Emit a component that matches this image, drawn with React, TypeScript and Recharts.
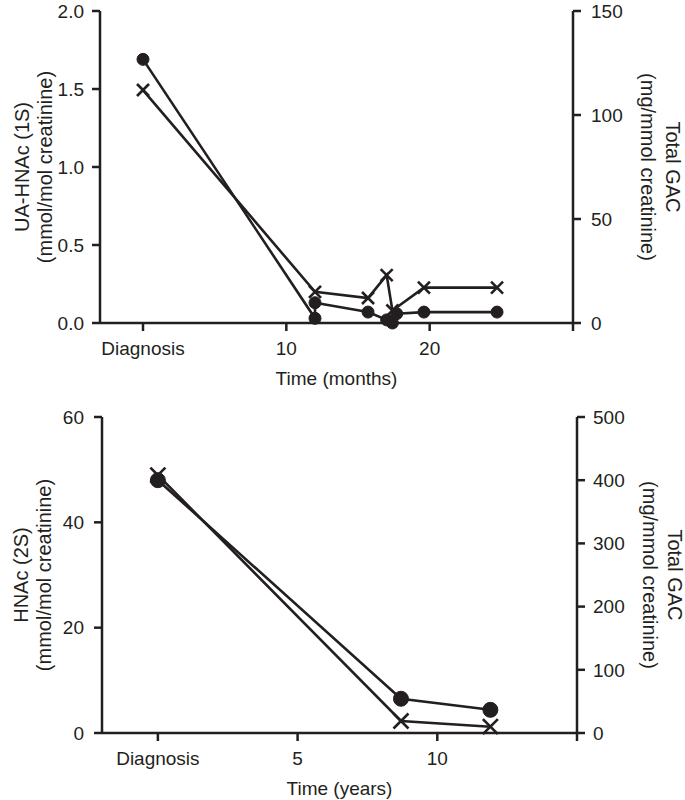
import { LineChart, Line, XAxis, YAxis } from 'recharts';

const INK = '#231f20';
const FONT = '"Liberation Sans", Arial, Helvetica, sans-serif';

// upper panel: months after diagnosis
const monthTicks = [0, 10, 20, 30];
const uaTicks = [0, 0.5, 1.0, 1.5, 2.0];
const gacTicksTop = [0, 50, 100, 150];
const uaMonths = [0, 12, 12, 15.7, 17.0, 17.4, 17.7, 19.6, 24.7];
const uaValues = [1.69, 0.03, 0.13, 0.07, 0.02, 0.0, 0.06, 0.07, 0.07];
const gacMonths = [0, 12, 15.7, 17.0, 17.4, 19.6, 24.7];
const gacTopValues = [112, 15, 12, 23, 6, 17, 17];

// lower panel: years after diagnosis
const yearTicks = [0, 5, 10, 15];
const hnacTicks = [0, 20, 40, 60];
const gacTicksBottom = [0, 100, 200, 300, 400, 500];
const hnacYears = [0, 8.7, 11.9];
const hnacValues = [48, 6.5, 4.4];
const gacYears = [0, 8.7, 11.9];
const gacBottomValues = [408, 19, 10];

const toRows = (xs: number[], ys: number[]) => xs.map((t, i) => ({ t, v: ys[i] }));

const uaData = toRows(uaMonths, uaValues);
const gacTopData = toRows(gacMonths, gacTopValues);
const hnacData = toRows(hnacYears, hnacValues);
const gacBottomData = toRows(gacYears, gacBottomValues);

const axisLine = { stroke: INK, strokeWidth: 2.5 };
const tickStyle = { fill: INK, fontSize: 19, fontFamily: FONT };

const Cross = ({ cx, cy, size }: any) => {
  if (cx == null || cy == null) return null;
  const s = size / 2;
  return (
    <g>
      <line x1={cx - s} y1={cy - s} x2={cx + s} y2={cy + s} stroke={INK} strokeWidth={2.6} />
      <line x1={cx - s} y1={cy + s} x2={cx + s} y2={cy - s} stroke={INK} strokeWidth={2.6} />
    </g>
  );
};

const YTitle = ({ viewBox, lines, xs, rotate }: any) => {
  if (!viewBox) return null;
  const cy = viewBox.y + viewBox.height / 2;
  return (
    <g>
      {lines.map((t: string, i: number) => (
        <text
          key={i}
          x={xs[i]}
          y={cy}
          transform={`rotate(${rotate} ${xs[i]} ${cy})`}
          textAnchor="middle"
          dominantBaseline="central"
          fill={INK}
          fontSize={20}
          fontFamily={FONT}
        >
          {t}
        </text>
      ))}
    </g>
  );
};

const fmtTime = (last: number) => (v: number) => (v === 0 ? 'Diagnosis' : v === last ? '' : String(v));

export default function App() {
  return (
    <div style={{ position: 'absolute', left: 0, top: 0, width: 685, height: 800, background: '#fff' }}>
      <LineChart width={685} height={395} margin={{ top: 11, right: 0, bottom: 0, left: 0 }}>
        <XAxis
          type="number"
          dataKey="t"
          domain={[-3, 30]}
          ticks={monthTicks}
          interval={0}
          tickFormatter={fmtTime(30)}
          height={72}
          axisLine={axisLine}
          tickLine={axisLine}
          tickSize={8}
          tickMargin={11}
          tick={tickStyle}
          label={{ value: 'Time (months)', position: 'insideBottom', offset: 10, fill: INK, fontSize: 19, fontFamily: FONT }}
        />
        <YAxis
          yAxisId="left"
          width={100}
          domain={[0, 2]}
          ticks={uaTicks}
          interval={0}
          tickFormatter={(v: number) => v.toFixed(1)}
          axisLine={axisLine}
          tickLine={axisLine}
          tickSize={8}
          tickMargin={8}
          tick={tickStyle}
          label={<YTitle lines={['UA-HNAc (1S)', '(mmol/mol creatinine)']} xs={[22, 45]} rotate={-90} />}
        />
        <YAxis
          yAxisId="right"
          orientation="right"
          width={112}
          domain={[0, 150]}
          ticks={gacTicksTop}
          interval={0}
          axisLine={axisLine}
          tickLine={axisLine}
          tickSize={8}
          tickMargin={10}
          tick={tickStyle}
          label={<YTitle lines={['(mg/mmol creatinine)', 'Total GAC']} xs={[648, 673]} rotate={90} />}
        />
        <Line
          yAxisId="left"
          data={uaData}
          dataKey="v"
          stroke={INK}
          strokeWidth={2.6}
          dot={{ r: 6, fill: INK, stroke: INK, strokeWidth: 1 }}
          isAnimationActive={false}
        />
        <Line
          yAxisId="right"
          data={gacTopData}
          dataKey="v"
          stroke={INK}
          strokeWidth={2.6}
          dot={(p: any) => <Cross key={`xt-${p.index}`} cx={p.cx} cy={p.cy} size={12} />}
          isAnimationActive={false}
        />
      </LineChart>

      <LineChart width={685} height={405} margin={{ top: 22, right: 0, bottom: 0, left: 0 }}>
        <XAxis
          type="number"
          dataKey="t"
          domain={[-2, 15]}
          ticks={yearTicks}
          interval={0}
          tickFormatter={fmtTime(15)}
          height={67}
          axisLine={axisLine}
          tickLine={axisLine}
          tickSize={8}
          tickMargin={11}
          tick={tickStyle}
          label={{ value: 'Time (years)', position: 'insideBottom', offset: 5, fill: INK, fontSize: 19, fontFamily: FONT }}
        />
        <YAxis
          yAxisId="left"
          width={102}
          domain={[0, 60]}
          ticks={hnacTicks}
          interval={0}
          axisLine={axisLine}
          tickLine={axisLine}
          tickSize={8}
          tickMargin={10}
          tick={tickStyle}
          label={<YTitle lines={['HNAc (2S)', '(mmol/mol creatinine)']} xs={[21, 44]} rotate={-90} />}
        />
        <YAxis
          yAxisId="right"
          orientation="right"
          width={108}
          domain={[0, 500]}
          ticks={gacTicksBottom}
          interval={0}
          axisLine={axisLine}
          tickLine={axisLine}
          tickSize={8}
          tickMargin={8}
          tick={tickStyle}
          label={<YTitle lines={['(mg/mmol creatinine)', 'Total GAC']} xs={[650, 675]} rotate={90} />}
        />
        <Line
          yAxisId="left"
          data={hnacData}
          dataKey="v"
          stroke={INK}
          strokeWidth={2.6}
          dot={{ r: 7.5, fill: INK, stroke: INK, strokeWidth: 1 }}
          isAnimationActive={false}
        />
        <Line
          yAxisId="right"
          data={gacBottomData}
          dataKey="v"
          stroke={INK}
          strokeWidth={2.6}
          dot={(p: any) => <Cross key={`xb-${p.index}`} cx={p.cx} cy={p.cy} size={15} />}
          isAnimationActive={false}
        />
      </LineChart>
    </div>
  );
}
